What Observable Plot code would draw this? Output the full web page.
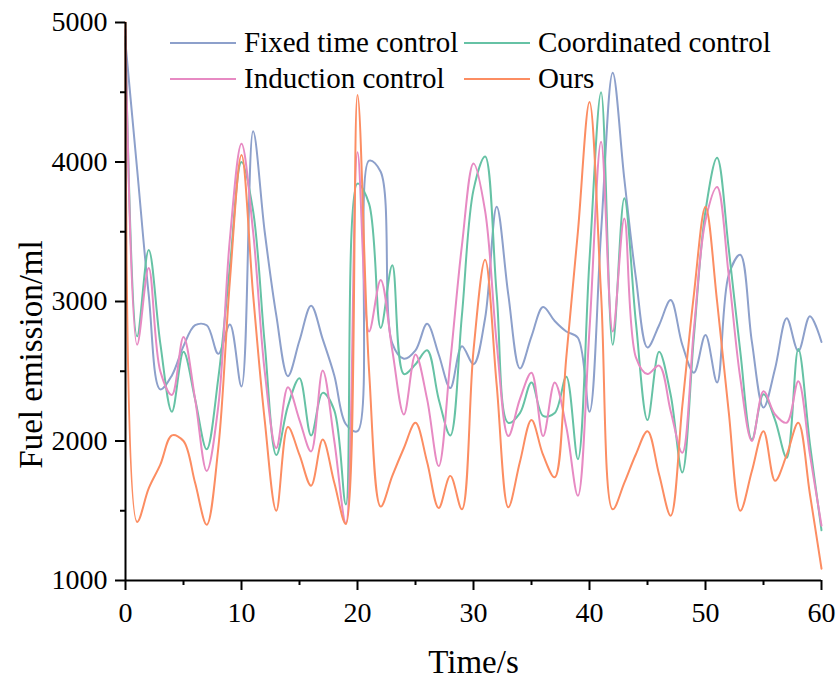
<!DOCTYPE html>
<html>
<head>
<meta charset="utf-8">
<script src="https://cdn.jsdelivr.net/npm/d3@7"></script>
<script src="https://cdn.jsdelivr.net/npm/@observablehq/plot@0.6"></script>
<style>
html, body { margin: 0; padding: 0; background: #fff; overflow: hidden; }
#chart { width: 837px; height: 679px; }
</style>
</head>
<body>
<div id="chart"></div>
<script>
// Time axis (s)
const time = d3.range(0, 61);

// Series values (ml), one per second
const fixedTime = [4850, 3950, 3050, 2370, 2470, 2680, 2830, 2830, 2625, 2835,
  2390, 4220, 3500, 2900, 2465, 2720, 2970, 2730, 2470, 2120,
  2070, 4010, 3930, 2700, 2590, 2650, 2840, 2620, 2380, 2680,
  2550, 2880, 3680, 3050, 2520, 2750, 2960, 2860, 2785, 2740,
  2210, 3500, 4640, 3880, 3170, 2670, 2830, 3010, 2690, 2490,
  2760, 2420, 3190, 3335, 2710, 2240, 2520, 2880, 2645, 2895, 2710];

const coordinated = [4900, 2750, 3370, 2700, 2210, 2640, 2300, 1940, 2450, 3250,
  4000, 3650, 2700, 1900, 2250, 2450, 2040, 2345, 2220, 1545,
  3845, 3700, 2810, 3260, 2480, 2550, 2650, 2300, 2040, 2900,
  3800, 4040, 3050, 2130, 2200, 2420, 2180, 2200, 2460, 1870,
  3300, 4500, 2690, 3740, 2850, 2150, 2640, 2330, 1775, 2750,
  3650, 4030, 3380, 2640, 2010, 2335, 2150, 1880, 2660, 1980, 1360];

const induction = [4950, 2690, 3240, 2500, 2330, 2745, 2300, 1785, 2250, 3450,
  4130, 3500, 2500, 1950, 2385, 2150, 1925, 2505, 2000, 1410,
  4070, 2785, 3155, 2650, 2190, 2620, 2300, 1820, 2570, 3400,
  3990, 3650, 2700, 2035, 2300, 2490, 2035, 2420, 2100, 1607,
  2800, 4145, 2785, 3595, 2600, 2480, 2540, 2214, 1916, 2800,
  3580, 3820, 3190, 2450, 2000, 2357, 2190, 2131, 2428, 1904, 1393];

const ours = [5000, 1420, 1660, 1830, 2040, 2000, 1700, 1400, 1950, 3150,
  4050, 3050, 2150, 1500, 2100, 1900, 1680, 2010, 1700, 1405,
  4480, 2500, 1530, 1750, 1950, 2130, 1850, 1520, 1750, 1510,
  2650, 3300, 2400, 1525, 1850, 2150, 1900, 1740, 2600, 3500,
  4430, 3050, 1510, 1700, 1905, 2070, 1760, 1465, 2250, 3050,
  3680, 3000, 2210, 1500, 1785, 2070, 1715, 1900, 2130, 1620, 1085];

const seriesNames = ["Fixed time control", "Coordinated control", "Induction control", "Ours"];
const seriesValues = [fixedTime, coordinated, induction, ours];
const seriesColors = ["#8DA0CB", "#66C2A5", "#E78AC3", "#FC8D62"];

// Tick values
const xMajor = [0, 10, 20, 30, 40, 50, 60];
const xMinor = [5, 15, 25, 35, 45, 55];
const yMajor = [1000, 2000, 3000, 4000, 5000];
const yMinor = [1500, 2500, 3500, 4500];

const rows = seriesNames.flatMap((name, k) =>
  seriesValues[k].map((v, i) => ({t: time[i], v, s: name})));

const font = "'Liberation Serif', 'Times New Roman', serif";
const W = 837, H = 679, ML = 125, MR = 16, MT = 22, MB = 99;
const xDomain = [0, 60], yDomain = [1000, 5000];

// pixel-to-data helpers for tick lengths (same linear mapping as the plot)
const pxX = d3.scaleLinear(xDomain, [ML, W - MR]);
const pxY = d3.scaleLinear(yDomain, [H - MB, MT]);
const yTickMajorEnd = pxY.invert(H - MB + 10);
const yTickMinorEnd = pxY.invert(H - MB + 5);
const xTickMajorEnd = pxX.invert(ML - 10);
const xTickMinorEnd = pxX.invert(ML - 5);
const tickColor = "#000";

const chart = Plot.plot({
  width: W,
  height: H,
  marginLeft: ML,
  marginRight: MR,
  marginTop: MT,
  marginBottom: MB,
  style: {fontFamily: font, background: "#fff", color: "#000", overflow: "visible"},
  x: {domain: xDomain, clamp: false},
  y: {domain: yDomain, clamp: false},
  color: {domain: seriesNames, range: seriesColors},
  marks: [
    Plot.line(rows, {x: "t", y: "v", z: "s", stroke: "s", curve: "catmull-rom", strokeWidth: 2}),
    // tick labels
    Plot.axisX(xMajor, {tickSize: 0, tickPadding: 22, fontSize: 28, label: null, tickFormat: d => String(d)}),
    Plot.axisY(yMajor, {tickSize: 0, tickPadding: 18, fontSize: 28, label: null, tickFormat: d => String(d)}),
    // outward tick marks
    Plot.ruleX(xMajor, {x: d => d, y1: yDomain[0], y2: yTickMajorEnd, stroke: tickColor, strokeWidth: 2}),
    Plot.ruleX(xMinor, {x: d => d, y1: yDomain[0], y2: yTickMinorEnd, stroke: tickColor, strokeWidth: 2}),
    Plot.ruleY(yMajor, {y: d => d, x1: xDomain[0], x2: xTickMajorEnd, stroke: tickColor, strokeWidth: 2}),
    Plot.ruleY(yMinor, {y: d => d, x1: xDomain[0], x2: xTickMinorEnd, stroke: tickColor, strokeWidth: 2}),
    // axis lines
    Plot.ruleX([0], {stroke: "#000", strokeWidth: 2}),
    Plot.ruleY([1000], {stroke: "#000", strokeWidth: 2}),
    // axis titles
    Plot.text(["Time/s"], {frameAnchor: "bottom", textAnchor: "middle", lineAnchor: "middle", dy: 82, fontSize: 33}),
    Plot.text(["Fuel emission/ml"], {frameAnchor: "left", textAnchor: "middle", lineAnchor: "middle", rotate: -90, dx: -94, dy: 53, fontSize: 33})
  ]
});

const svg = d3.select(chart);

// Legend (two columns, two rows, inside the plot area)
const legend = svg.append("g")
  .attr("font-family", font)
  .attr("font-size", 29)
  .attr("text-anchor", "start");
const legendCols = [170, 464];
const legendRows = [43, 79];
seriesNames.forEach((name, k) => {
  const lx = legendCols[k % 2];
  const ly = legendRows[Math.floor(k / 2)];
  legend.append("line")
    .attr("x1", lx).attr("x2", lx + 66)
    .attr("y1", ly).attr("y2", ly)
    .attr("stroke", seriesColors[k]).attr("stroke-width", 2);
  legend.append("text")
    .attr("x", lx + 74).attr("y", ly).attr("dy", "0.32em")
    .attr("text-anchor", "start")
    .attr("fill", "#000").text(name);
});

document.getElementById("chart").appendChild(chart);
</script>
</body>
</html>
